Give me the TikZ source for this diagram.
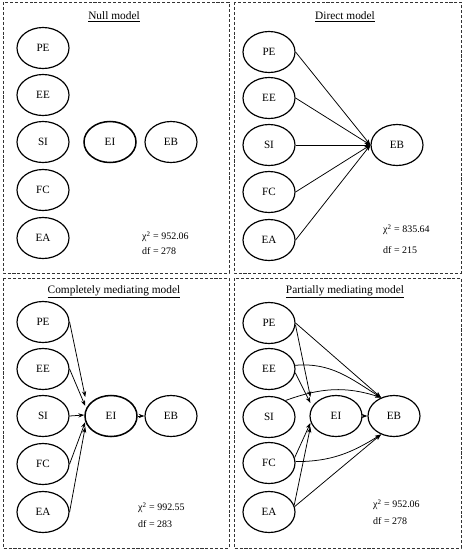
\documentclass[tikz,border=0pt]{standalone}
\usepackage{fontspec}
\setmainfont{Liberation Serif}
\usepackage{tikz}
\usetikzlibrary{arrows.meta,calc,shapes.geometric}

\begin{document}
\begin{tikzpicture}[
    x=0.03cm, y=-0.03cm,
    latent/.style={ellipse, draw, line width=1pt, minimum width=1.56cm,
                   minimum height=1.23cm, inner sep=0pt,
                   font=\fontsize{9.5}{11}\selectfont},
    mediator/.style={latent, line width=1.3pt},
    panel/.style={draw=black!80, dash pattern=on 2.6pt off 1.6pt, line width=0.7pt},
    ttl/.style={font=\fontsize{9.7}{11}\selectfont},
    stat/.style={anchor=west, inner sep=0pt, font=\fontsize{8.5}{10}\selectfont},
    arr/.style={-{Stealth[length=5pt,width=3.6pt]}, line width=0.65pt}
]
\useasboundingbox (0,0) rectangle (462,550);

% Null model
\draw[panel] (3,2) rectangle (229,273);
\node[ttl] (nttl) at (114,17) {\underline{Null model}};
\node[latent] (npe) at (43,48) {PE};
\node[latent] (nee) at (43,95) {EE};
\node[latent] (nsi) at (43,142) {SI};
\node[latent] (nfc) at (43,190) {FC};
\node[latent] (nea) at (43,238) {EA};
\node[mediator] (nei) at (110,142) {EI};
\node[latent] (neb) at (171,142) {EB};
\node[stat] (nchi) at (142,237) {χ\textsuperscript{2} = 952.06};
\node[stat] (ndf) at (142,251) {df = 278};

% Direct model
\draw[panel] (234,2) rectangle (461,273);
\node[ttl] (dttl) at (345,17) {\underline{Direct model}};
\node[latent] (dpe) at (269,52) {PE};
\node[latent] (dee) at (269,98) {EE};
\node[latent] (dsi) at (269,145) {SI};
\node[latent] (dfc) at (269,192) {FC};
\node[latent] (dea) at (269,240) {EA};
\node[latent] (deb) at (397,145) {EB};
\node[stat] (dchi) at (383,230) {χ\textsuperscript{2} = 835.64};
\node[stat] (ddf) at (383,250) {df = 215};
\draw[arr] (dpe.east) -- (deb.west);
\draw[arr] (dee.east) -- (deb.west);
\draw[arr] (dsi.east) -- (deb.west);
\draw[arr] (dfc.east) -- (deb.west);
\draw[arr] (dea.east) -- (deb.west);

% Completely mediating model
\draw[panel] (3,278) rectangle (229,548);
\node[ttl] (cttl) at (114,292) {\underline{Completely mediating model}};
\node[latent] (cpe) at (43,322) {PE};
\node[latent] (cee) at (43,369) {EE};
\node[latent] (csi) at (43,416) {SI};
\node[latent] (cfc) at (43,464) {FC};
\node[latent] (cea) at (43,512) {EA};
\node[mediator] (cei) at (111,416) {EI};
\node[latent] (ceb) at (171,416) {EB};
\node[stat] (cchi) at (138,508) {χ\textsuperscript{2} = 992.55};
\node[stat] (cdf) at (138,524) {df = 283};
\draw[arr] (cpe.east) -- ($(cei.west)+(1,-19)$);
\draw[arr] (cee.east) -- ($(cei.west)+(1,-10)$);
\draw[arr] (csi.east) -- ($(cei.west)+(0,-1)$);
\draw[arr] (cfc.east) -- ($(cei.west)+(1,6)$);
\draw[arr] (cea.east) -- ($(cei.west)+(1,11)$);
\draw[arr] (cei) -- (ceb);

% Partially mediating model
\draw[panel] (234,278) rectangle (461,548);
\node[ttl] (pttl) at (345,292) {\underline{Partially mediating model}};
\node[latent] (ppe) at (269,323) {PE};
\node[latent] (pee) at (269,369) {EE};
\node[latent] (psi) at (269,417) {SI};
\node[latent] (pfc) at (269,463) {FC};
\node[latent] (pea) at (269,512) {EA};
\node[latent] (pei) at (336,416) {EI};
\node[latent] (peb) at (394,416) {EB};
\node[stat] (pchi) at (373,505) {χ\textsuperscript{2} = 952.06};
\node[stat] (pdf) at (373,521) {df = 278};
\draw[arr] (ppe.-4) -- ($(pei.west)+(1,-19)$);
\draw[arr] (pee.-8) -- ($(pei.west)+(1,-13)$);
\draw[arr] (pfc.12) -- ($(pei.west)+(1,7)$);
\draw[arr] (pea.15) -- ($(pei.west)+(1,11)$);
\draw[arr] (pei) -- (peb);
\draw[arr] (ppe.east) -- (peb.125);
\draw[arr] (pee.8) to[out=5, in=148] (peb.125);
\draw[arr] (psi.45) to[out=20, in=162] (peb.125);
\draw[arr] (pfc.3) to[out=0, in=212] (peb.235);
\draw[arr] (pea.12) -- (peb.235);
\end{tikzpicture}
\end{document}
